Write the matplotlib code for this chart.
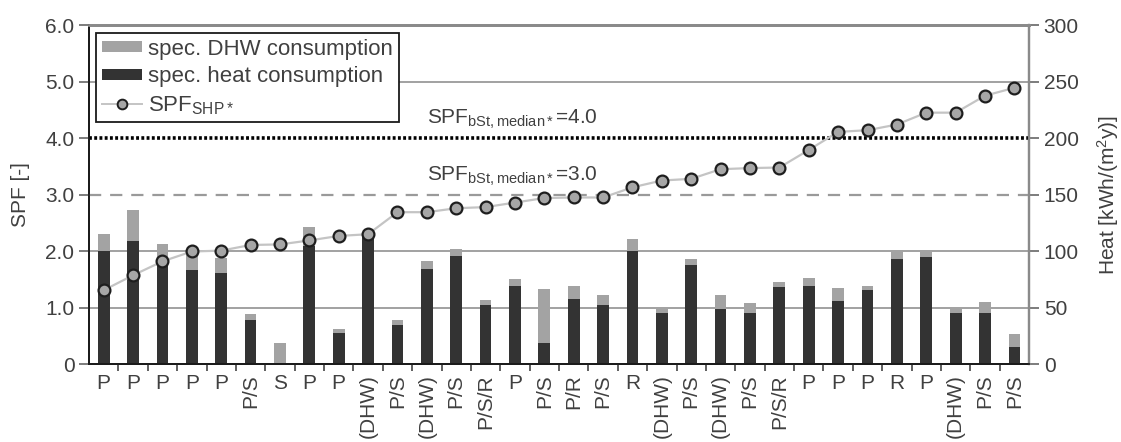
import matplotlib.pyplot as plt
from matplotlib.lines import Line2D
from matplotlib.patches import Patch

plt.rcParams['font.family'] = ['Liberation Sans', 'DejaVu Sans']
plt.rcParams['mathtext.fontset'] = 'custom'
plt.rcParams['mathtext.rm'] = 'Liberation Sans'
plt.rcParams['mathtext.it'] = 'Liberation Sans'

# =====================================================
# DATA
# =====================================================

systems = ["P", "P", "P", "P", "P", "P/S", "S", "P", "P", "(DHW)",
           "P/S", "(DHW)", "P/S", "P/S/R", "P", "P/S", "P/R", "P/S", "R", "(DHW)",
           "P/S", "(DHW)", "P/S", "P/S/R", "P", "P", "P", "R", "P", "(DHW)",
           "P/S", "P/S"]

heat = [100.5, 109, 92.5, 83, 81, 39, 0, 105, 28, 115,
        35, 84, 95.5, 52, 69, 19, 57.5, 52.5, 100.5, 45,
        88, 49, 45.5, 68.5, 69, 56, 65.5, 93, 95, 45,
        45, 15.5]

dhw = [14.5, 27, 14, 18, 13, 5.5, 19, 16.5, 3.5, 1.5,
       4, 7, 6.5, 5, 6, 48, 11.5, 8.5, 10.5, 6,
       5, 12, 9, 4.5, 7.5, 11.5, 3.5, 6, 5, 5,
       10.5, 11.3]

spf = [1.31, 1.575, 1.82, 1.995, 2.01, 2.11, 2.12, 2.19, 2.27, 2.30,
       2.69, 2.69, 2.76, 2.78, 2.86, 2.94, 2.95, 2.95, 3.13, 3.25,
       3.28, 3.45, 3.47, 3.48, 3.79, 4.11, 4.14, 4.24, 4.45, 4.45,
       4.75, 4.89]

spf_median_st = 4.0
spf_median = 3.0

# =====================================================
# PLOT
# =====================================================

txt = "#404040"
dark = "#333333"
light = "#a3a3a3"
fs = 15

fig = plt.figure(figsize=(11.21, 4.42), dpi=100)
ax = fig.add_axes([0.0794, 0.1758, 0.8386, 0.7676])
ax2 = ax.twinx()
ax.set_zorder(ax2.get_zorder() + 1)
ax.patch.set_visible(False)

x = list(range(len(systems)))

# bars on the heat axis
for lvl in [50, 100, 250]:
    ax2.axhline(lvl, color="#9a9a9a", lw=1.3, zorder=0)
ax2.bar(x, heat, width=0.4, color=dark, zorder=2)
ax2.bar(x, dhw, width=0.4, bottom=heat, color=light, zorder=2)

# reference lines and SPF
ax.axhline(spf_median, color="#9a9a9a", lw=1.6, ls=(0, (5.5, 4)), zorder=1)
ax.axhline(spf_median_st, color="black", lw=2.6, ls=(0, (0.8, 0.65)), zorder=1)
ax.plot(x, spf, color="#c4c4c4", lw=1.6, marker="o", ms=8.5,
        mfc="#a6a6a6", mec="#1e1e1e", mew=1.6, zorder=3)

ax.text(11.0, 4.12, r"SPF$_{\mathregular{bSt,median*}}$=4.0", fontsize=fs,
        color=txt, ha="left", va="bottom")
ax.text(11.0, 3.12, r"SPF$_{\mathregular{bSt,median*}}$=3.0", fontsize=fs,
        color=txt, ha="left", va="bottom")

ax.set_xlim(-0.5, len(systems) - 0.5)
ax.set_ylim(0, 6)
ax2.set_ylim(0, 300)

ax.set_yticks([0, 1, 2, 3, 4, 5, 6])
ax.set_yticklabels(["0", "1.0", "2.0", "3.0", "4.0", "5.0", "6.0"])
ax2.set_yticks([0, 50, 100, 150, 200, 250, 300])

ax.set_xticks(x)
ax.set_xticklabels(systems)
ax.set_xticks([i + 0.5 for i in x[:-1]], minor=True)
ax.tick_params(axis="x", which="major", length=0, pad=7, labelsize=fs, labelcolor=txt)
ax.tick_params(axis="x", which="minor", length=5, width=1.2, color="#444444")
for lab in ax.get_xticklabels():
    if len(lab.get_text()) > 1:
        lab.set_rotation(90)
    lab.set_va("top")

ax.tick_params(axis="y", length=7, width=1.2, color="#666666", labelsize=fs, labelcolor=txt)
ax2.tick_params(axis="y", length=7, width=1.2, color="#666666", labelsize=fs, labelcolor=txt)

ax.set_ylabel("SPF [-]", fontsize=fs, color=txt, labelpad=11)
ax2.set_ylabel("Heat [kWh/(m$^2$y)]", fontsize=fs, color=txt, labelpad=12)

for a in [ax, ax2]:
    a.spines["left"].set_color("#1a1a1a")
    a.spines["left"].set_linewidth(1.3)
    a.spines["bottom"].set_color("#1a1a1a")
    a.spines["bottom"].set_linewidth(1.3)
    a.spines["top"].set_color("#8a8a8a")
    a.spines["top"].set_linewidth(2)
    a.spines["right"].set_color("#8a8a8a")
    a.spines["right"].set_linewidth(1.6)

handles = [
    Patch(facecolor=light, edgecolor="none"),
    Patch(facecolor=dark, edgecolor="none"),
    Line2D([], [], color="#c4c4c4", lw=1.4, marker="o", ms=7,
           mfc="#a6a6a6", mec="#1e1e1e", mew=1.4),
]
labels = ["spec. DHW consumption", "spec. heat consumption", r"SPF$_{\mathregular{SHP*}}$"]
leg = ax.legend(handles, labels, loc="upper left", bbox_to_anchor=(0.0074, 0.976),
                borderaxespad=0, fontsize=16, frameon=True, fancybox=False,
                handlelength=1.8, handleheight=0.35, handletextpad=0.3,
                labelspacing=0.3, borderpad=0.25, labelcolor=txt)
leg.get_frame().set_edgecolor("#1a1a1a")
leg.get_frame().set_linewidth(1.3)
leg.get_frame().set_alpha(1)

plt.savefig("out.png", dpi=100)
